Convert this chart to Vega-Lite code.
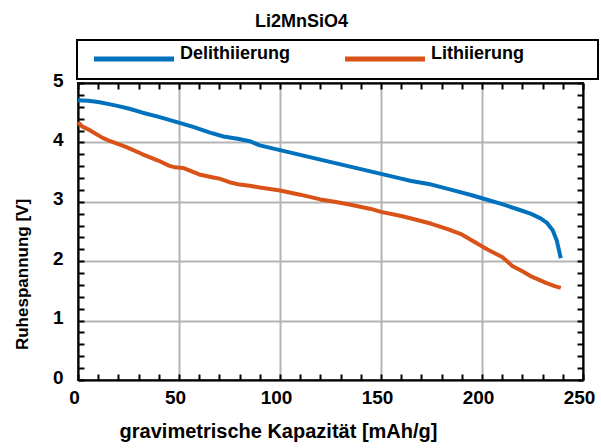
{
  "$schema": "https://vega.github.io/schema/vega-lite/v6.json",
  "width": 505,
  "height": 297,
  "autosize": {"type": "none"},
  "padding": {"left": 78, "top": 83, "right": 18, "bottom": 68},
  "title": {"text": "Li2MnSiO4", "anchor": "middle", "dx": -29, "offset": -6, "baseline": "alphabetic", "font": "Liberation Sans", "fontSize": 18, "fontWeight": "bold", "color": "#000000"},
  "config": {"view": {"stroke": "#000000", "strokeWidth": 2}, "font": "Liberation Sans"},
  "datasets": {
    "curves": [
      {"x": 0, "v": 4.71, "s": "Delithiierung"},
      {"x": 5, "v": 4.70, "s": "Delithiierung"},
      {"x": 10, "v": 4.68, "s": "Delithiierung"},
      {"x": 16, "v": 4.64, "s": "Delithiierung"},
      {"x": 20, "v": 4.61, "s": "Delithiierung"},
      {"x": 25, "v": 4.57, "s": "Delithiierung"},
      {"x": 32, "v": 4.50, "s": "Delithiierung"},
      {"x": 40, "v": 4.43, "s": "Delithiierung"},
      {"x": 49, "v": 4.34, "s": "Delithiierung"},
      {"x": 57, "v": 4.26, "s": "Delithiierung"},
      {"x": 65, "v": 4.17, "s": "Delithiierung"},
      {"x": 72, "v": 4.10, "s": "Delithiierung"},
      {"x": 79, "v": 4.06, "s": "Delithiierung"},
      {"x": 85, "v": 4.02, "s": "Delithiierung"},
      {"x": 90, "v": 3.95, "s": "Delithiierung"},
      {"x": 100, "v": 3.87, "s": "Delithiierung"},
      {"x": 110, "v": 3.79, "s": "Delithiierung"},
      {"x": 120, "v": 3.71, "s": "Delithiierung"},
      {"x": 130, "v": 3.63, "s": "Delithiierung"},
      {"x": 140, "v": 3.55, "s": "Delithiierung"},
      {"x": 150, "v": 3.47, "s": "Delithiierung"},
      {"x": 160, "v": 3.39, "s": "Delithiierung"},
      {"x": 165, "v": 3.35, "s": "Delithiierung"},
      {"x": 175, "v": 3.29, "s": "Delithiierung"},
      {"x": 185, "v": 3.20, "s": "Delithiierung"},
      {"x": 195, "v": 3.11, "s": "Delithiierung"},
      {"x": 200, "v": 3.06, "s": "Delithiierung"},
      {"x": 210, "v": 2.96, "s": "Delithiierung"},
      {"x": 218, "v": 2.87, "s": "Delithiierung"},
      {"x": 224, "v": 2.80, "s": "Delithiierung"},
      {"x": 229, "v": 2.72, "s": "Delithiierung"},
      {"x": 232, "v": 2.65, "s": "Delithiierung"},
      {"x": 235, "v": 2.52, "s": "Delithiierung"},
      {"x": 237, "v": 2.35, "s": "Delithiierung"},
      {"x": 238, "v": 2.20, "s": "Delithiierung"},
      {"x": 239, "v": 2.05, "s": "Delithiierung"},
      {"x": 0, "v": 4.34, "s": "Lithiierung"},
      {"x": 2, "v": 4.27, "s": "Lithiierung"},
      {"x": 5, "v": 4.22, "s": "Lithiierung"},
      {"x": 7.5, "v": 4.17, "s": "Lithiierung"},
      {"x": 12, "v": 4.08, "s": "Lithiierung"},
      {"x": 16, "v": 4.02, "s": "Lithiierung"},
      {"x": 24, "v": 3.92, "s": "Lithiierung"},
      {"x": 32, "v": 3.80, "s": "Lithiierung"},
      {"x": 40, "v": 3.69, "s": "Lithiierung"},
      {"x": 45, "v": 3.61, "s": "Lithiierung"},
      {"x": 48, "v": 3.58, "s": "Lithiierung"},
      {"x": 52, "v": 3.57, "s": "Lithiierung"},
      {"x": 60, "v": 3.46, "s": "Lithiierung"},
      {"x": 67, "v": 3.41, "s": "Lithiierung"},
      {"x": 70, "v": 3.39, "s": "Lithiierung"},
      {"x": 75, "v": 3.33, "s": "Lithiierung"},
      {"x": 80, "v": 3.29, "s": "Lithiierung"},
      {"x": 85, "v": 3.27, "s": "Lithiierung"},
      {"x": 90, "v": 3.24, "s": "Lithiierung"},
      {"x": 100, "v": 3.19, "s": "Lithiierung"},
      {"x": 110, "v": 3.12, "s": "Lithiierung"},
      {"x": 120, "v": 3.04, "s": "Lithiierung"},
      {"x": 127, "v": 3.00, "s": "Lithiierung"},
      {"x": 135, "v": 2.95, "s": "Lithiierung"},
      {"x": 145, "v": 2.88, "s": "Lithiierung"},
      {"x": 150, "v": 2.83, "s": "Lithiierung"},
      {"x": 160, "v": 2.76, "s": "Lithiierung"},
      {"x": 166, "v": 2.71, "s": "Lithiierung"},
      {"x": 175, "v": 2.63, "s": "Lithiierung"},
      {"x": 183, "v": 2.54, "s": "Lithiierung"},
      {"x": 190, "v": 2.45, "s": "Lithiierung"},
      {"x": 194, "v": 2.37, "s": "Lithiierung"},
      {"x": 202.5, "v": 2.20, "s": "Lithiierung"},
      {"x": 210, "v": 2.07, "s": "Lithiierung"},
      {"x": 215, "v": 1.92, "s": "Lithiierung"},
      {"x": 220, "v": 1.83, "s": "Lithiierung"},
      {"x": 224, "v": 1.75, "s": "Lithiierung"},
      {"x": 232, "v": 1.63, "s": "Lithiierung"},
      {"x": 236, "v": 1.58, "s": "Lithiierung"},
      {"x": 239, "v": 1.55, "s": "Lithiierung"}
    ]
  },
  "data": {"name": "curves"},
  "layer": [
    {
      "mark": {"type": "line", "strokeWidth": 4, "strokeCap": "butt", "strokeJoin": "round"},
      "encoding": {
        "x": {
          "field": "x", "type": "quantitative",
          "scale": {"domain": [0, 250], "nice": false, "zero": false},
          "axis": {
            "orient": "bottom", "values": [0, 50, 100, 150, 200, 250],
            "grid": true, "gridColor": "#b4b4b4", "gridWidth": 2,
            "ticks": false, "domain": true, "domainColor": "#000000", "domainWidth": 2,
            "labelFont": "Liberation Sans", "labelFontSize": 19, "labelFontWeight": "bold", "labelColor": "#000000",
            "labelPadding": 8, "labelFlush": false, "labelOffset": -4,
            "title": "gravimetrische Kapazität [mAh/g]",
            "titleFont": "Liberation Sans", "titleFontSize": 20, "titleFontWeight": "bold", "titleColor": "#000000",
            "titleX": 200, "titleY": 51, "titleBaseline": "middle", "titleAlign": "center"
          }
        },
        "y": {
          "field": "v", "type": "quantitative",
          "scale": {"domain": [0, 5], "nice": false, "zero": false},
          "axis": {
            "orient": "left", "values": [0, 1, 2, 3, 4, 5],
            "grid": true, "gridColor": "#b4b4b4", "gridWidth": 2,
            "ticks": false, "domain": true, "domainColor": "#000000", "domainWidth": 2,
            "labelFont": "Liberation Sans", "labelFontSize": 19, "labelFontWeight": "bold", "labelColor": "#000000",
            "labelPadding": 15, "labelFlush": false, "labelOffset": -3,
            "title": "Ruhespannung [V]",
            "titleFont": "Liberation Sans", "titleFontSize": 17, "titleFontWeight": "bold", "titleColor": "#000000",
            "titleX": -56, "titleY": 191, "titleAngle": 270, "titleBaseline": "middle", "titleAlign": "center"
          }
        },
        "color": {
          "field": "s", "type": "nominal",
          "scale": {"domain": ["Delithiierung", "Lithiierung"], "range": ["#0072BD", "#D95319"]},
          "legend": {
            "orient": "none", "legendX": -1, "legendY": -43, "direction": "horizontal",
            "title": " ", "titleOrient": "right", "titlePadding": 64, "titleFontSize": 11,
            "padding": 10, "strokeColor": "#000000",
            "symbolType": "M0,0H32", "symbolSize": 25, "symbolStrokeWidth": 5, "symbolOffset": -2,
            "labelOffset": 77, "columnPadding": 44,
            "labelFont": "Liberation Sans", "labelFontSize": 18, "labelFontWeight": "bold", "labelColor": "#000000",
            "labelBaseline": "alphabetic",
            "encode": {"legend": {"update": {"strokeWidth": {"value": 2}}}}
          }
        }
      }
    },
    {
      "mark": {"type": "line", "strokeOpacity": 0},
      "encoding": {
        "x": {
          "field": "x", "type": "quantitative",
          "axis": {
            "orient": "bottom",
            "values": [0, 10, 20, 30, 40, 50, 60, 70, 80, 90, 100, 110, 120, 130, 140, 150, 160, 170, 180, 190, 200, 210, 220, 230, 240, 250],
            "grid": false, "labels": false, "domain": false, "title": null,
            "ticks": true, "tickSize": -6, "tickWidth": 2, "tickColor": "#000000"
          }
        },
        "y": {
          "field": "v", "type": "quantitative",
          "axis": {
            "orient": "left",
            "values": [0, 0.2, 0.4, 0.6, 0.8, 1, 1.2, 1.4, 1.6, 1.8, 2, 2.2, 2.4, 2.6, 2.8, 3, 3.2, 3.4, 3.6, 3.8, 4, 4.2, 4.4, 4.6, 4.8, 5],
            "grid": false, "labels": false, "domain": false, "title": null,
            "ticks": true, "tickSize": -6, "tickWidth": 2, "tickColor": "#000000"
          }
        }
      }
    },
    {
      "mark": {"type": "line", "strokeOpacity": 0},
      "encoding": {
        "x": {
          "field": "x", "type": "quantitative",
          "axis": {
            "orient": "top",
            "values": [0, 10, 20, 30, 40, 50, 60, 70, 80, 90, 100, 110, 120, 130, 140, 150, 160, 170, 180, 190, 200, 210, 220, 230, 240, 250],
            "grid": false, "labels": false, "domain": true, "domainColor": "#000000", "domainWidth": 2, "title": null,
            "ticks": true, "tickSize": -6, "tickWidth": 2, "tickColor": "#000000"
          }
        },
        "y": {
          "field": "v", "type": "quantitative",
          "axis": {
            "orient": "right",
            "values": [0, 0.2, 0.4, 0.6, 0.8, 1, 1.2, 1.4, 1.6, 1.8, 2, 2.2, 2.4, 2.6, 2.8, 3, 3.2, 3.4, 3.6, 3.8, 4, 4.2, 4.4, 4.6, 4.8, 5],
            "grid": false, "labels": false, "domain": true, "domainColor": "#000000", "domainWidth": 2, "title": null,
            "ticks": true, "tickSize": -6, "tickWidth": 2, "tickColor": "#000000"
          }
        }
      }
    }
  ],
  "resolve": {"axis": {"x": "independent", "y": "independent"}}
}
